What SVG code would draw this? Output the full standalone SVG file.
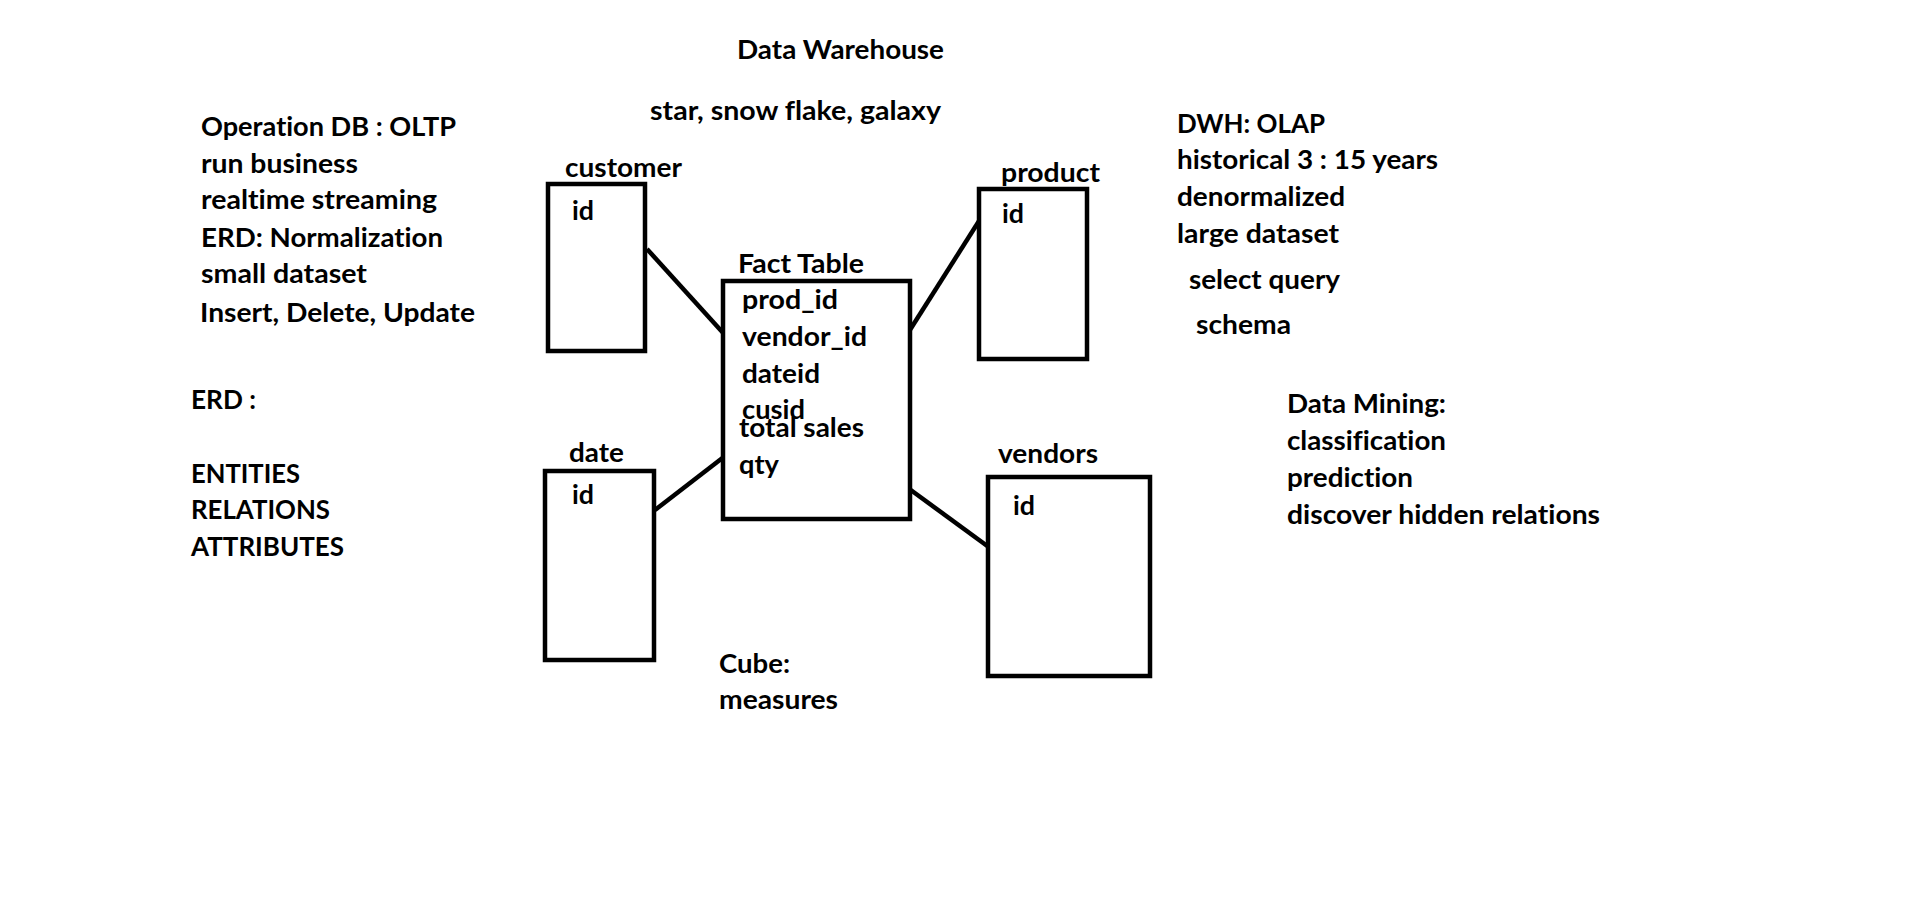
<svg xmlns="http://www.w3.org/2000/svg" width="1914" height="903" viewBox="0 0 1914 903">
<style>
text{font-family:Lato,"Liberation Sans",Arial,sans-serif;font-weight:bold;font-size:26px;fill:#000;font-variant-ligatures:none}
.box{fill:#fff;stroke:#000;stroke-width:4.5}
.conn line{stroke:#000;stroke-width:4.5;stroke-linecap:butt}
</style>
<rect width="1914" height="903" fill="#fff"/>
<g id="title">
<text x="737" y="59" textLength="207" lengthAdjust="spacingAndGlyphs">Data Warehouse</text>
<text x="650" y="120" textLength="291" lengthAdjust="spacingAndGlyphs">star, snow flake, galaxy</text>
</g>
<g id="oltp-notes">
<text x="201" y="136" textLength="255" lengthAdjust="spacingAndGlyphs">Operation DB : OLTP</text>
<text x="201" y="173" textLength="157" lengthAdjust="spacingAndGlyphs">run business</text>
<text x="201" y="209" textLength="236" lengthAdjust="spacingAndGlyphs">realtime streaming</text>
<text x="201" y="247" textLength="242" lengthAdjust="spacingAndGlyphs">ERD: Normalization</text>
<text x="201" y="283" textLength="166" lengthAdjust="spacingAndGlyphs">small dataset</text>
<text x="200" y="322" textLength="275" lengthAdjust="spacingAndGlyphs">Insert, Delete, Update</text>
</g>
<g id="erd-notes">
<text x="191" y="409" textLength="65" lengthAdjust="spacingAndGlyphs">ERD :</text>
<text x="191" y="483" textLength="109" lengthAdjust="spacingAndGlyphs">ENTITIES</text>
<text x="191" y="519" textLength="139" lengthAdjust="spacingAndGlyphs">RELATIONS</text>
<text x="191" y="556" textLength="153" lengthAdjust="spacingAndGlyphs">ATTRIBUTES</text>
</g>
<g id="olap-notes">
<text x="1177" y="133" textLength="148" lengthAdjust="spacingAndGlyphs">DWH: OLAP</text>
<text x="1177" y="169" textLength="261" lengthAdjust="spacingAndGlyphs">historical 3 : 15 years</text>
<text x="1177" y="206" textLength="168" lengthAdjust="spacingAndGlyphs">denormalized</text>
<text x="1177" y="243" textLength="162" lengthAdjust="spacingAndGlyphs">large dataset</text>
<text x="1189" y="289" textLength="151" lengthAdjust="spacingAndGlyphs">select query</text>
<text x="1196" y="334" textLength="95" lengthAdjust="spacingAndGlyphs">schema</text>
</g>
<g id="mining-notes">
<text x="1287" y="413" textLength="159" lengthAdjust="spacingAndGlyphs">Data Mining:</text>
<text x="1287" y="450" textLength="159" lengthAdjust="spacingAndGlyphs">classification</text>
<text x="1287" y="487" textLength="126" lengthAdjust="spacingAndGlyphs">prediction</text>
<text x="1287" y="524" textLength="313" lengthAdjust="spacingAndGlyphs">discover hidden relations</text>
</g>
<g id="cube-notes">
<text x="719" y="673" textLength="71" lengthAdjust="spacingAndGlyphs">Cube:</text>
<text x="719" y="709" textLength="119" lengthAdjust="spacingAndGlyphs">measures</text>
</g>
<g class="conn" id="connectors">
<line x1="647" y1="249" x2="725" y2="335"/>
<line x1="908" y1="333" x2="979" y2="221"/>
<line x1="655" y1="510" x2="725" y2="456"/>
<line x1="908" y1="488" x2="990" y2="548"/>
</g>
<g id="customer">
<rect class="box" x="548" y="184" width="97" height="167"/>
<text x="565" y="177" textLength="117" lengthAdjust="spacingAndGlyphs">customer</text>
<text x="572" y="220" textLength="22" lengthAdjust="spacingAndGlyphs">id</text>
</g>
<g id="product">
<rect class="box" x="979" y="189" width="108" height="170"/>
<text x="1001" y="182" textLength="99" lengthAdjust="spacingAndGlyphs">product</text>
<text x="1002" y="223" textLength="22" lengthAdjust="spacingAndGlyphs">id</text>
</g>
<g id="fact-table">
<rect class="box" x="723" y="281" width="187" height="238"/>
<text x="738" y="273" textLength="126" lengthAdjust="spacingAndGlyphs">Fact Table</text>
<text x="742" y="309" textLength="96" lengthAdjust="spacingAndGlyphs">prod_id</text>
<text x="742" y="346" textLength="125" lengthAdjust="spacingAndGlyphs">vendor_id</text>
<text x="742" y="383" textLength="78" lengthAdjust="spacingAndGlyphs">dateid</text>
<text x="742" y="419" textLength="63" lengthAdjust="spacingAndGlyphs">cusid</text>
<text x="739" y="437" textLength="125" lengthAdjust="spacingAndGlyphs">total sales</text>
<text x="739" y="474" textLength="40" lengthAdjust="spacingAndGlyphs">qty</text>
</g>
<g id="date">
<rect class="box" x="545" y="471" width="109" height="189"/>
<text x="569" y="462" textLength="55" lengthAdjust="spacingAndGlyphs">date</text>
<text x="572" y="504" textLength="22" lengthAdjust="spacingAndGlyphs">id</text>
</g>
<g id="vendors">
<rect class="box" x="988" y="477" width="162" height="199"/>
<text x="998" y="463" textLength="100" lengthAdjust="spacingAndGlyphs">vendors</text>
<text x="1013" y="515" textLength="22" lengthAdjust="spacingAndGlyphs">id</text>
</g>
</svg>
